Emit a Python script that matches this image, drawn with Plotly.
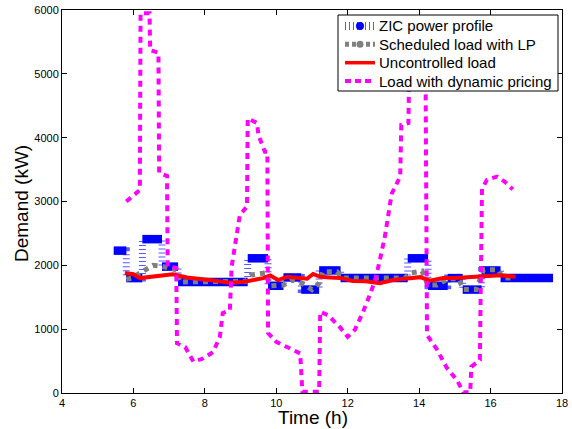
import plotly.graph_objects as go

# ZIC power profile: piecewise-constant segments (h, kW)
zic_start = [5.45, 5.80, 6.25, 6.80, 7.25, 9.20, 9.77, 10.20, 10.70, 11.20, 11.80, 13.68, 14.25, 14.80, 15.22, 15.75, 16.28]
zic_end   = [5.80, 6.25, 6.80, 7.25, 9.20, 9.77, 10.20, 10.70, 11.20, 11.80, 13.68, 14.25, 14.80, 15.22, 15.75, 16.28, 17.75]
zic_level = [2230, 1800, 2410, 1980, 1740, 2110, 1680, 1810, 1620, 1920, 1800, 2110, 1680, 1800, 1620, 1920, 1800]

# Scheduled load with LP
lp_t = [5.80, 5.96, 6.24, 6.41, 6.55, 6.75, 7.03, 7.20, 7.30, 7.67, 8.20, 8.62, 9.15, 9.30, 9.55, 9.70, 9.85, 10.20,
        10.45, 10.72, 11.00, 11.20, 11.30, 11.70, 11.85, 12.35, 13.10, 13.60, 13.75, 14.08, 14.25, 14.50, 14.80,
        15.10, 15.25, 15.60, 15.80, 16.20, 16.35, 16.60]
lp_v = [1780, 1800, 1900, 1960, 2000, 1990, 1960, 1930, 1740, 1740, 1740, 1740, 1750, 1850, 1880, 1880, 1680, 1690,
        1770, 1720, 1620, 1720, 1900, 1900, 1800, 1800, 1790, 1800, 1880, 1910, 1690, 1690, 1790,
        1790, 1620, 1620, 1930, 1930, 1800, 1800]

# Uncontrolled load
unc_t = [5.76, 6.00, 6.18, 6.50, 6.80, 7.10, 7.50, 7.95, 8.30, 8.62, 8.90, 9.18, 9.45, 9.63, 9.83, 10.05, 10.30,
         10.60, 10.86, 11.03, 11.23, 11.50, 11.80, 12.15, 12.50, 12.90, 13.27, 13.60, 14.03, 14.30, 14.67, 15.00,
         15.40, 15.70, 16.00, 16.27, 16.70]
unc_v = [1880, 1860, 1800, 1820, 1830, 1860, 1810, 1790, 1760, 1730, 1730, 1750, 1780, 1800, 1840, 1770, 1820,
         1810, 1790, 1865, 1820, 1810, 1800, 1755, 1750, 1720, 1770, 1790, 1815, 1760, 1800, 1800,
         1810, 1820, 1830, 1845, 1820]

# Load with dynamic pricing
dyn_t = [5.80, 6.00, 6.18, 6.20, 6.45, 6.47, 6.70, 6.72, 6.94, 6.96, 7.20, 7.22, 7.45, 7.68, 7.95, 8.23, 8.42,
         8.50, 8.70, 8.75, 8.98, 9.18, 9.20, 9.46, 9.50, 9.68, 9.75, 9.77, 10.00, 10.30, 10.67, 10.73, 11.20,
         11.23, 11.45, 11.80, 12.00, 12.20, 12.43, 12.62, 12.77, 12.90, 13.05, 13.19, 13.24, 13.47, 13.50,
         13.70, 13.72, 14.18, 14.22, 14.50, 14.78, 15.06, 15.24, 15.43, 15.46, 15.70, 15.76, 15.90, 16.18,
         16.40, 16.62]
dyn_v = [3000, 3100, 3180, 5950, 5950, 5370, 5330, 3450, 3400, 1980, 1960, 780, 720, 490, 540, 640, 880,
         1250, 1300, 1980, 2790, 2920, 4300, 4230, 4040, 3780, 3780, 940, 800, 720, 620, 20, 20,
         1270, 1220, 1020, 880, 990, 1270, 1540, 1770, 2080, 2480, 2980, 3130, 3390, 4200,
         4230, 5000, 5000, 910, 680, 390, 200, 10, 10, 410, 520, 3200, 3340, 3390,
         3310, 3190]

x_ticks = [4, 6, 8, 10, 12, 14, 16, 18]
y_ticks = [0, 1000, 2000, 3000, 4000, 5000, 6000]

legend_labels = ["ZIC power profile", "Scheduled load with LP", "Uncontrolled load", "Load with dynamic pricing"]

BLUE = "#0000ff"
STRIPE = "rgb(90,90,255)"
GREY = "#808080"
RED = "#ff0000"
MAGENTA = "#ff00ff"
FONT = "Arial, Liberation Sans, sans-serif"

# plot-area geometry in pixels (used to place the hand-drawn legend box)
W, H = 572, 429
L, R, T, B = 62, 10, 10, 36
PW, PH = W - L - R, H - T - B


def px(x):
    return (x - L) / PW


def py(y):
    return (H - B - y) / PH


fig = go.Figure()

# ZIC connectors (striped)
fig.add_trace(go.Scatter(x=zic_start + [zic_end[-1]], y=zic_level + [zic_level[-1]], mode="lines",
                         name=legend_labels[0],
                         line=dict(color=STRIPE, width=7, dash="1px,3px", shape="hv"),
                         showlegend=False))
# ZIC bars
bx, by = [], []
for s, e, v in zip(zic_start, zic_end, zic_level):
    bx += [s, e, None]
    by += [v, v, None]
fig.add_trace(go.Scatter(x=bx, y=by, mode="lines", line=dict(color=BLUE, width=8.5),
                         name=legend_labels[0], showlegend=False))

fig.add_trace(go.Scatter(x=lp_t, y=lp_v, mode="lines", name=legend_labels[1],
                         line=dict(color=GREY, width=5, dash="5px,5px"), showlegend=False))
fig.add_trace(go.Scatter(x=unc_t, y=unc_v, mode="lines", name=legend_labels[2],
                         line=dict(color=RED, width=4), showlegend=False))
fig.add_trace(go.Scatter(x=dyn_t, y=dyn_v, mode="lines", name=legend_labels[3],
                         line=dict(color=MAGENTA, width=4, dash="6px,5px"), showlegend=False))

# ---- legend drawn by hand (MATLAB-like compact box) ----
shapes = []
annotations = []
box_l, box_r, box_t, box_b = 338, 558, 15, 91
shapes.append(dict(type="rect", xref="paper", yref="paper", x0=px(box_l), x1=px(box_r), y0=py(box_b), y1=py(box_t),
                   fillcolor="white", line=dict(color="black", width=1), layer="above"))
rows = [26, 44.3, 62.7, 81]
icon_l, icon_r, icon_c = 345, 375, 360
styles = [
    dict(color=STRIPE, width=8, dash="1px,3px"),
    dict(color=GREY, width=5, dash="4px,3px"),
    dict(color=RED, width=3.5, dash="solid"),
    dict(color=MAGENTA, width=4, dash="6px,4px"),
]
for yy, st in zip(rows, styles):
    shapes.append(dict(type="line", xref="paper", yref="paper", x0=px(icon_l), x1=px(icon_r),
                       y0=py(yy), y1=py(yy), line=st, layer="above"))
for yy, col, r in [(rows[0], BLUE, 4), (rows[1], GREY, 3.5)]:
    shapes.append(dict(type="circle", xref="paper", yref="paper", x0=px(icon_c - r), x1=px(icon_c + r),
                       y0=py(yy + r), y1=py(yy - r), fillcolor=col, line=dict(color=col, width=0), layer="above"))
for yy, lab in zip(rows, legend_labels):
    annotations.append(dict(text=lab, xref="paper", yref="paper", x=px(377), y=py(yy), xanchor="left",
                            yanchor="middle", showarrow=False, font=dict(size=15, family=FONT, color="black")))

# axis titles
annotations.append(dict(text="Time (h)", xref="paper", yref="paper", x=px(313), y=py(417), xanchor="center",
                        yanchor="middle", showarrow=False, font=dict(size=19, family=FONT, color="black")))
annotations.append(dict(text="Demand (kW)", xref="paper", yref="paper", x=px(21), y=py(204), xanchor="center",
                        yanchor="middle", textangle=-90, showarrow=False,
                        font=dict(size=19, family=FONT, color="black")))

axis_common = dict(showline=True, linecolor="black", linewidth=1, mirror="ticks", ticks="inside",
                   ticklen=5, tickcolor="black", showgrid=False, zeroline=False, automargin=False,
                   tickfont=dict(family=FONT, size=11, color="black"))

fig.update_layout(
    width=W, height=H,
    margin=dict(l=L, r=R, t=T, b=B),
    plot_bgcolor="white", paper_bgcolor="white",
    font=dict(family=FONT, color="black"),
    xaxis=dict(range=[4, 18], tickvals=x_ticks, ticktext=[str(t) for t in x_ticks], **axis_common),
    yaxis=dict(range=[0, 6000], tickvals=y_ticks, ticktext=[str(t) for t in y_ticks], **axis_common),
    shapes=shapes,
    annotations=annotations,
    showlegend=False,
)

fig.write_html("out.html", config={"displayModeBar": False},
               post_script="document.body.style.margin='0';document.body.style.padding='0';")
